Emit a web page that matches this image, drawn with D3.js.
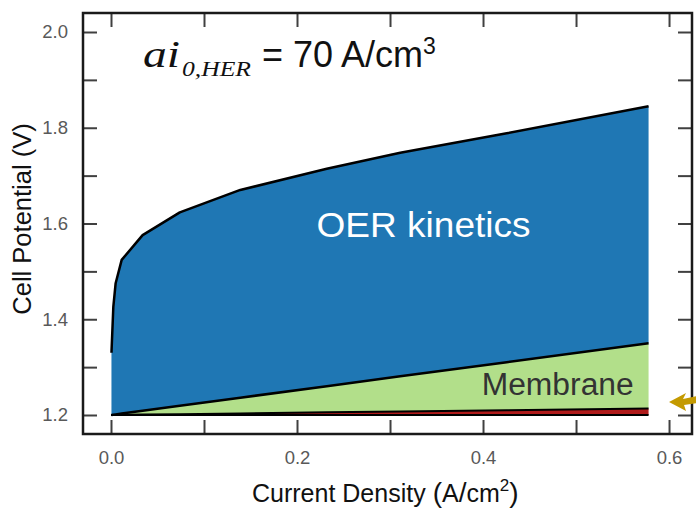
<!DOCTYPE html>
<html>
<head>
<meta charset="utf-8">
<script src="https://cdn.jsdelivr.net/npm/d3@7"></script>
<style>
  html, body { margin: 0; padding: 0; background: #fff; }
  svg { display: block; }
</style>
</head>
<body>
<svg id="chart" width="696" height="509"></svg>
<script>
// Polarization breakdown of an electrolysis cell: stacked voltage losses above the reversible potential
const currentDensity = [0.0005, 0.0025, 0.005, 0.0115, 0.034, 0.074, 0.139, 0.232, 0.311, 0.4255, 0.578];
const reversiblePotential = 1.2;
const herLoss      = [0.0000, 0.0001, 0.0001, 0.0003, 0.0008, 0.0017, 0.0033, 0.0055, 0.0073, 0.0100, 0.0135];
const membraneLoss = [0.0001, 0.0005, 0.0012, 0.0027, 0.0080, 0.0175, 0.0328, 0.0547, 0.0734, 0.1004, 0.1365];
const oerLoss      = [0.130, 0.225, 0.274, 0.321, 0.367, 0.404, 0.434, 0.454, 0.467, 0.478, 0.495];

const lossKeys = ["her", "membrane", "oer"];
const lossColors = { her: "#b01b1b", membrane: "#b2df8a", oer: "#1f77b4" };

const xTicks = [0, 0.1, 0.2, 0.3, 0.4, 0.5, 0.6];
const xTickLabels = [0, 0.2, 0.4, 0.6];
const yTicks = [1.2, 1.3, 1.4, 1.5, 1.6, 1.7, 1.8, 1.9, 2.0];
const yTickLabels = [1.2, 1.4, 1.6, 1.8, 2.0];

const svg = d3.select("#chart");
const plotLeft = 83, plotRight = 692, plotTop = 13, plotBottom = 434;
const sans = "Liberation Sans, Arial, sans-serif";
const serif = "Liberation Serif, Times New Roman, serif";

const x = d3.scaleLinear().domain([-0.0301, 0.6247]).range([plotLeft, plotRight]);
const y = d3.scaleLinear().domain([1.1603, 2.0397]).range([plotBottom, plotTop]);

const rows = currentDensity.map((cd, k) => ({
  cd, her: herLoss[k], membrane: membraneLoss[k], oer: oerLoss[k]
}));
const stacked = d3.stack().keys(lossKeys)(rows);

const area = d3.area()
  .x(d => x(d.data.cd))
  .y0(d => y(reversiblePotential + d[0]))
  .y1(d => y(reversiblePotential + d[1]));

const topLine = d3.line()
  .x(d => x(d.data.cd))
  .y(d => y(reversiblePotential + d[1]));

const plot = svg.append("g");

plot.selectAll("path.band")
  .data(stacked)
  .join("path")
  .attr("class", "band")
  .attr("fill", s => lossColors[s.key])
  .attr("d", area);

// reversible baseline
const lastCd = currentDensity[currentDensity.length - 1];
plot.append("path")
  .attr("fill", "none")
  .attr("stroke", "#000")
  .attr("stroke-width", 2)
  .attr("d", d3.line()([[x(0), y(reversiblePotential)], [x(lastCd), y(reversiblePotential)]]));

plot.selectAll("path.edge")
  .data(stacked)
  .join("path")
  .attr("class", "edge")
  .attr("fill", "none")
  .attr("stroke", "#000")
  .attr("stroke-width", s => s.key === "her" ? 2 : 2.5)
  .attr("stroke-linejoin", "round")
  .attr("d", topLine);

// band labels
plot.append("text")
  .attr("x", x(0.221))
  .attr("y", y(1.572))
  .attr("fill", "#fff")
  .attr("font-family", sans)
  .attr("font-size", 35)
  .attr("textLength", 214)
  .attr("lengthAdjust", "spacingAndGlyphs")
  .text("OER kinetics");

plot.append("text")
  .attr("x", x(0.3986))
  .attr("y", y(1.2418))
  .attr("fill", "#333")
  .attr("font-family", sans)
  .attr("font-size", 31)
  .attr("textLength", 152)
  .attr("lengthAdjust", "spacingAndGlyphs")
  .text("Membrane");

// axes: ticks point inward on all four sides
const tickColor = "#404040";
function styleAxis(g) {
  g.select(".domain").remove();
  g.selectAll(".tick line").attr("stroke", tickColor).attr("stroke-width", 2);
  g.selectAll(".tick text")
    .attr("fill", "#595959")
    .attr("font-family", sans)
    .attr("font-size", 18.5);
}
const fmt = d3.format(".1f");
const hasLabel = (list, v) => list.some(t => Math.abs(t - v) < 1e-9);

svg.append("g")
  .attr("transform", `translate(0,${plotBottom})`)
  .call(d3.axisBottom(x).tickValues(xTicks).tickSize(-14).tickPadding(17)
    .tickFormat(d => hasLabel(xTickLabels, d) ? fmt(d) : ""))
  .call(styleAxis);

svg.append("g")
  .attr("transform", `translate(0,${plotTop})`)
  .call(d3.axisTop(x).tickValues(xTicks).tickSize(-14).tickFormat(""))
  .call(styleAxis);

svg.append("g")
  .attr("transform", `translate(${plotLeft},0)`)
  .call(d3.axisLeft(y).tickValues(yTicks).tickSize(-14).tickPadding(15)
    .tickFormat(d => hasLabel(yTickLabels, d) ? fmt(d) : ""))
  .call(styleAxis);

svg.append("g")
  .attr("transform", `translate(${plotRight},0)`)
  .call(d3.axisRight(y).tickValues(yTicks).tickSize(-14).tickFormat(""))
  .call(styleAxis);

// frame
svg.append("rect")
  .attr("x", plotLeft).attr("y", plotTop)
  .attr("width", plotRight - plotLeft).attr("height", plotBottom - plotTop)
  .attr("fill", "none")
  .attr("stroke", "#1a1a1a")
  .attr("stroke-width", 2.5);

// axis titles
const xTitle = svg.append("text")
  .attr("x", 252).attr("y", 502)
  .attr("fill", "#111")
  .attr("font-family", sans)
  .attr("font-size", 25);
xTitle.append("tspan").text("Current Density ");
xTitle.append("tspan").attr("font-size", 28).text("(");
xTitle.append("tspan").text("A");
xTitle.append("tspan").attr("font-size", 28).text("/");
xTitle.append("tspan").text("cm");
xTitle.append("tspan").attr("font-size", 17).attr("dy", -11).text("2");
xTitle.append("tspan").attr("font-size", 28).attr("dy", 11).text(")");

svg.append("text")
  .attr("transform", "translate(31,219) rotate(-90)")
  .attr("text-anchor", "middle")
  .attr("fill", "#111")
  .attr("font-family", sans)
  .attr("font-size", 25.5)
  .text("Cell Potential (V)");

// parameter annotation
svg.append("text")
  .attr("x", 143).attr("y", 67)
  .attr("font-family", serif).attr("font-style", "italic")
  .attr("font-size", 37)
  .attr("textLength", 37).attr("lengthAdjust", "spacingAndGlyphs")
  .attr("fill", "#111")
  .text("ai");
svg.append("text")
  .attr("x", 182).attr("y", 76)
  .attr("font-family", serif).attr("font-style", "italic")
  .attr("font-size", 21)
  .attr("textLength", 69).attr("lengthAdjust", "spacingAndGlyphs")
  .attr("fill", "#111")
  .text("0,HER");
const eq = svg.append("text")
  .attr("x", 262).attr("y", 67)
  .attr("font-family", sans)
  .attr("font-size", 36)
  .attr("fill", "#111");
eq.append("tspan").text("= 70 A/cm");
eq.append("tspan").attr("font-size", 23).attr("dy", -13).text("3");

// pointer toward the thin HER band
const tipX = x(0.6), tipY = y(1.227);
svg.append("path")
  .attr("fill", "#c49a00")
  .attr("d", `M${tipX},${tipY} L${tipX + 17},${tipY - 9} L${tipX + 14},${tipY - 3} L${tipX + 28},${tipY - 6} L${tipX + 28},${tipY + 1} L${tipX + 15},${tipY + 3} L${tipX + 17},${tipY + 9} Z`);
</script>
</body>
</html>
